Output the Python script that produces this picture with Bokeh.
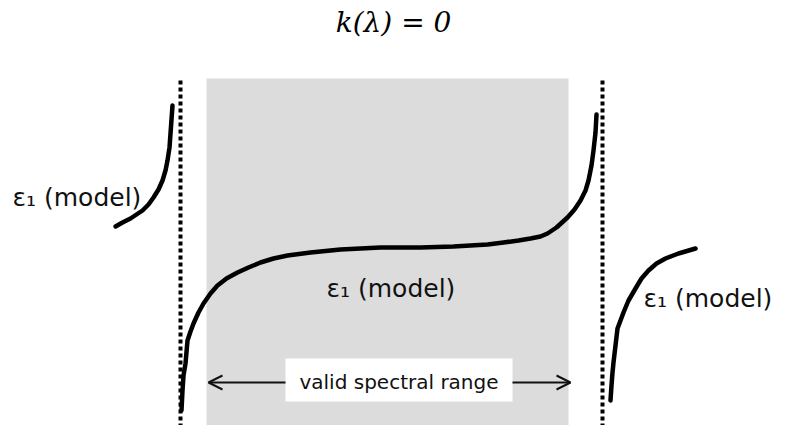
from bokeh.plotting import figure
from bokeh.models import Range1d, Arrow, OpenHead
from bokeh.core.properties import value
from bokeh.embed import file_html
from bokeh.resources import INLINE

# schematic coordinates (screen-like units, y grows downward)
left_curve_x = [115, 122, 130, 136, 142, 148, 153, 158, 162, 165, 167, 169, 170, 171, 172]
left_curve_y = [226, 222, 218, 214, 210, 204, 197, 189, 180, 170, 160, 147, 133, 119, 105]

main_curve_x = [181, 182, 183, 185, 187, 190, 193, 198, 203, 210, 217, 226, 237, 248, 260, 273, 287, 310, 340, 380, 420, 453, 487, 503, 518, 530, 540, 547, 556, 567, 574, 580, 585, 588, 591, 593, 595, 596]
main_curve_y = [410, 390, 375, 363, 340, 331, 323, 312, 303, 293, 285, 278, 272, 267, 262, 258, 255, 252, 249, 247, 247, 246, 244, 242, 240, 238, 236, 233, 227, 217, 209, 200, 190, 180, 165, 150, 132, 114]

right_curve_x = [610, 611, 612, 613, 615, 617, 620, 623, 628, 635, 641, 648, 656, 665, 678, 695]
right_curve_y = [400, 385, 372, 362, 345, 328, 320, 312, 300, 288, 278, 270, 263, 258, 253, 248]

range_left = 206
range_right = 568
pole_x = [180, 602]
pole_top = 80
pole_bottom = 425

label_text = "ε₁ (model)"
label_x = [12, 326, 643]
label_y = [197, 288, 298]

title_text = "k(λ) = 0"
range_text = "valid spectral range"

p = figure(width=789, height=425, output_backend="svg", toolbar_location=None,
           x_range=Range1d(0, 789), y_range=Range1d(425, 0),
           x_axis_location=None, y_axis_location=None, min_border=0)
p.grid.visible = False
p.outline_line_color = None
p.background_fill_color = "white"

# valid spectral range shading
p.quad(left=[range_left], right=[range_right], top=[78], bottom=[pole_bottom],
       fill_color="#dcdcdc", line_color=None)

# pole lines (dotted)
for px in pole_x:
    p.line([px, px], [pole_top, pole_bottom], line_color="black", line_width=4, line_dash="4 3")

# curves
for cx, cy in [(left_curve_x, left_curve_y), (main_curve_x, main_curve_y), (right_curve_x, right_curve_y)]:
    p.line(cx, cy, line_color="black", line_width=4.5, line_join="round", line_cap="round")

# labels
p.text(x=label_x, y=label_y, text=[label_text] * 3, text_font=value("DejaVu Sans"),
       text_font_size="25px", text_baseline="middle", text_align="left", text_color="#111111")

# title
p.text(x=[393], y=[22], text=[title_text], text_font=value("DejaVu Serif"),
       text_font_style="italic", text_font_size="28px", text_align="center",
       text_baseline="middle", text_color="black")

# valid range arrows + box
p.add_layout(Arrow(end=OpenHead(size=14, line_width=2, line_color="#111111"),
                   x_start=285, y_start=382, x_end=208, y_end=382,
                   line_width=2, line_color="#111111"))
p.add_layout(Arrow(end=OpenHead(size=14, line_width=2, line_color="#111111"),
                   x_start=512, y_start=382, x_end=570, y_end=382,
                   line_width=2, line_color="#111111"))
p.quad(left=[285], right=[512], top=[358], bottom=[401], fill_color="white", line_color=None)
p.text(x=[398.5], y=[381], text=[range_text], text_font=value("DejaVu Sans"),
       text_font_size="20px", text_align="center", text_baseline="middle", text_color="#111111")

open("out.html", "w").write(file_html(p, INLINE))
